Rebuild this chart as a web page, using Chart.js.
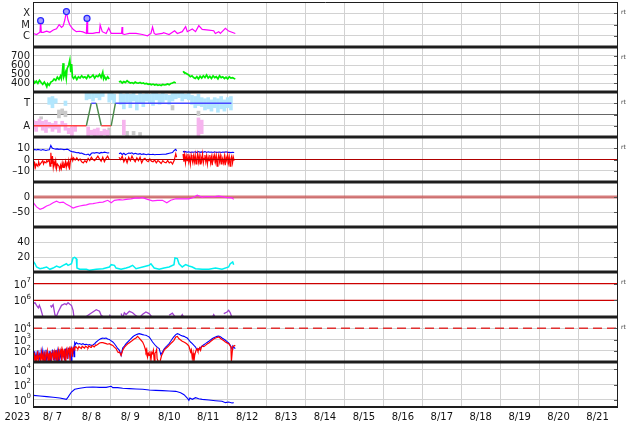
<!DOCTYPE html>
<html><head><meta charset="utf-8">
<script src="https://cdn.jsdelivr.net/npm/chart.js@4"></script>
<style>
html,body{margin:0;padding:0;background:#fff;}
#wrap{position:relative;width:634px;height:424px;overflow:hidden;background:#fff;}
canvas{position:absolute;left:0;}
</style></head><body><div id="wrap"></div>
<script>
// ---------------- DATA (x = hours since 2023-08-07 00:00 UT) ----------------
const dateLabels = ['8/ 7','8/ 8','8/ 9','8/10','8/11','8/12','8/13','8/14','8/15','8/16','8/17','8/18','8/19','8/20','8/21'];
const yearLabel = '2023';

// X-ray flux (W/m2)
const xraySeries = [[0.2,1.6e-6],[2.2,1.3e-6],[4.3,2.1e-6],[4.7,2.2e-5],[5.1,2.0e-6],[6.3,2.0e-6],[8.4,2.6e-6],[10.4,2.0e-6],[12.5,3.2e-6],[14.5,4.2e-6],[16.1,9.7e-6],[17.6,5.6e-6],[18.6,7.4e-6],[19.6,2.5e-5],[20.6,1.4e-4],[21.6,2.5e-5],[22.7,9e-6],[24.7,3.7e-6],[26.7,2.3e-6],[28.8,2.5e-6],[30.8,2.2e-6],[32.9,1.6e-6],[33.3,3.5e-5],[33.7,1.6e-6],[36.9,1.6e-6],[39.0,1.9e-6],[40.9,1.9e-6],[41.4,9e-6],[42.7,2.3e-6],[45.1,1.6e-6],[46.7,5e-6],[48.2,1.6e-6],[51.2,1.6e-6],[54.6,1.6e-6],[54.9,6e-6],[55.3,1.5e-6],[56.3,1.3e-6],[59.4,1.6e-6],[63.5,1.6e-6],[67.5,1.3e-6],[70.6,1.0e-6],[72.7,1.6e-6],[73.7,6e-6],[74.7,1.6e-6],[75.7,1.3e-6],[79.8,1.6e-6],[80.5,1.9e-6],[83.9,1.3e-6],[87.3,2.8e-6],[89.0,1.6e-6],[92.0,2.3e-6],[94.1,6.4e-6],[95.1,2.3e-6],[98.2,4e-6],[100.2,2.3e-6],[102.2,7.9e-6],[104.3,3.7e-6],[108.4,3.2e-6],[111.4,2.8e-6],[112.4,1.6e-6],[114.5,2.3e-6],[115.5,1.6e-6],[118.6,4.6e-6],[120.6,2.6e-6],[124.7,1.6e-6]];
const flareSeries = [[4.7,2.2e-5],[20.6,1.4e-4],[33.3,3.5e-5]];
const xrayTicks = [[1e-6,'C'],[1e-5,'M'],[1e-4,'X']];

// Solar wind speed (km/s)
const speedSeries = [[0,440],[1,400],[2,420],[3,395],[4,430],[5,405],[6,385],[7,410],[8,380],[8.5,360],[9,395],[10,375],[11,410],[12,420],[13,445],[14,430],[15,465],[16,440],[17,480],[17.5,450],[18,500],[18.6,620],[19,470],[20,520],[20.5,455],[21,560],[22,600],[22.7,655],[23.3,520],[23.8,610],[24.3,470],[25,450],[26,475],[27,440],[28,470],[29,455],[30,480],[31,460],[32,470],[33,450],[34,485],[35,460],[36,470],[37,490],[38,455],[39,480],[40,470],[41,495],[42,460],[43,520],[43.5,450],[44,475],[45,440],[46,470],[47,445],[48,null],[53,410],[54,420],[55,400],[56,415],[57,405],[58,425],[59,410],[60,400],[61,405],[62,395],[63,410],[64,400],[65,398],[66,405],[67,395],[68,400],[69,390],[70,395],[71,385],[72,390],[73,380],[74,388],[75,378],[76,385],[77,375],[78,380],[79,372],[80,385],[81,378],[82,382],[83,390],[84,380],[85,395],[86,400],[87,410],[88,400],[89,null],[92.5,530],[93,520],[94,510],[95,500],[96,490],[97,470],[98,480],[99,460],[100,450],[101,470],[102,445],[103,475],[104,455],[105,480],[106,460],[107,490],[108,455],[109,475],[110,450],[111,480],[112,460],[113,470],[114,445],[115,480],[116,460],[117,470],[118,450],[119,465],[120,445],[121,470],[122,455],[123,460],[124,450],[124.7,445]];
const speedTicks = [[400,'400'],[500,'500'],[600,'600'],[700,'700']];

// IMF sector: +1 = Toward, -1 = Away
const sectorSeries = [[0,-1],[32.9,-1],[35.9,1],[39.0,1],[42.1,-1],[48.2,-1],[50.8,1],[122.3,1]];
const towardSpread = [[10,0.9,1.5],[12,0.6,1.6],[14,1.0,1.4],[20,0.8,1.2],[33,1.3,1.95],[35,1.4,1.9],[37,1.2,2.0],[39,1.5,1.95],[41,1.3,1.9],[43,1.6,1.95],[47,1.1,1.9],[48.5,1.3,2.0],[50,1.0,1.8],[54,0.9,1.9],[56,0.5,1.8],[58,1.1,1.9],[60,0.6,1.8],[62,1.2,1.95],[64,0.4,1.7],[66,1.0,1.9],[68,0.7,1.8],[70,1.2,1.95],[72,1.0,1.8],[74,0.8,1.9],[76,1.3,1.95],[78,0.9,1.8],[80,1.1,1.9],[82,1.3,1.8],[84,0.9,1.7],[86,1.2,1.9],[88,1.4,1.9],[90,1.5,1.95],[92,1.2,1.9],[94,1.4,1.8],[96,1.3,1.9],[98,0.9,1.7],[100,0.6,1.6],[102,0.8,1.8],[104,0.7,1.5],[106,0.4,1.4],[108,0.5,1.5],[110,0.3,1.3],[112,0.6,1.5],[114,0.2,1.4],[116,0.5,1.6],[118,0.3,1.3],[120,0.6,1.5],[122,0.4,1.6]];
const awaySpread = [[0,-1.3,-0.5],[2,-1.5,-0.6],[4,-1.1,-0.4],[6,-1.4,-0.6],[8,-1.6,-0.5],[10,-1.2,-0.7],[12,-1.5,-0.8],[14,-1.3,-0.6],[16,-1.6,-0.9],[18,-1.0,-0.6],[20,-1.4,-0.8],[22,-1.7,-1.2],[24,-1.9,-1.1],[26,-1.5,-1.0],[34,-1.9,-1.1],[36,-1.8,-1.4],[38,-1.9,-1.3],[40,-1.85,-1.2],[42,-1.9,-1.5],[44,-1.8,-1.3],[46,-1.9,-1.4],[56,-1.8,-0.5],[102,-1.9,-0.3],[104,-1.7,-0.5]];
const mixedSpread = [[5,-0.4,-0.2],[16,-0.3,0.4],[18,0.0,0.5],[20,-0.2,0.3],[47,-1.8,-1.2],[58,-1.9,-1.5],[62,-1.8,-1.5],[66,-1.9,-1.6],[86,0.4,0.8],[102,-0.1,0.3]];
const sectorTicks = [[1,'T'],[0,''],[-1,'A']];

// IMF Bt and Bz (nT)
const btSeries = [[0,8],[1,9],[2,8.5],[3,9],[4,8.7],[5,8.2],[6,8.8],[7,8.5],[8,8],[9,8.4],[10,8.6],[11,12.5],[11.5,11],[12,10],[13,9.5],[14,9.2],[15,9.4],[16,9],[17,9.3],[18,9.1],[19,8.8],[20,8.9],[21,9.2],[22,8.6],[23,7.5],[24,7],[25,6.8],[26,6.5],[27,6.0],[28,6.2],[29,5.5],[30,5.8],[31,5.0],[32,4.5],[33,4.2],[34,4.8],[35,3.6],[36,5.5],[37,6.0],[38,5.7],[39,6.2],[40,6.0],[41,5.5],[42,6.3],[43,6.0],[44,6.5],[45,6.2],[46,5.8],[47,6.0],[48,null],[53,5.2],[54,5.8],[55,4.5],[56,5.5],[57,4.2],[58,5.0],[59,5.8],[60,5.5],[61,6.0],[62,4.8],[63,5.5],[64,5.0],[65,4.8],[66,5.2],[67,4.5],[68,5.0],[69,4.6],[70,4.2],[71,4.8],[72,4.5],[73,4.4],[74,4.6],[75,4.2],[76,4.5],[78,4.4],[80,4.6],[82,4.8],[84,5.5],[86,6.2],[87,8],[88,9],[88.5,7.5],[89,null],[92.5,7.5],[93,6.8],[94,7],[95,6.5],[96,6.8],[97,6.2],[98,6.6],[99,6.4],[100,6.9],[101,6.2],[102,7.1],[103,6.4],[104,6.8],[105,6.5],[106,7.0],[107,6.3],[108,6.8],[109,6.5],[110,6.6],[111,6.2],[112,6.8],[113,6.3],[114,6.5],[115,6.7],[116,6.2],[117,6.6],[118,6.4],[119,6.8],[120,6.3],[121,6.5],[122,6.1],[123,6.4],[124,6.2]];
const bzSeries = [[0,-2],[0.5,-5],[1,-3],[1.5,-7],[2,-4],[3,-6],[3.5,-2],[4,-5],[5,-3],[6,-1],[6.5,-4],[7,-2],[8,-3],[8.5,-1],[9,-2],[10,-0.5],[10.5,-6],[11,6],[11.5,-4],[12,3],[12.5,-7],[13,-2],[13.5,-5],[14,-1],[14.5,-8],[15,-4],[16,-6],[16.5,-9],[17,-5],[17.5,-8],[18,-3],[18.5,-7],[19,-4],[19.5,-6],[20,-2],[20.5,-7],[21,-3],[21.5,-5],[22,-1],[22.5,-9],[23,-2],[23.5,1],[24,2],[24.5,-1],[25,1.5],[26,-0.5],[27,1.5],[28,-1],[29,0.5],[30,-2],[31,-3],[32,-1],[33,-2.5],[34,1],[35,-1],[36,2],[37,0],[38,-1],[39,1],[40,3],[41,0.5],[42,-1.5],[43,2],[44,-2],[45,1],[46,3],[47,0],[48,null],[53,2],[54,0],[55,3],[56,-2],[57,1],[58,-3],[59,2],[60,-1],[61,3],[62,0],[63,-2],[64,1.5],[65,-1],[66,2],[67,-3],[68,0],[69,1],[70,-1],[71,-2],[72,0.5],[73,-1.5],[74,-2],[75,-0.5],[76,-3],[77,-1],[78,-2],[79,-3.5],[80,-1],[81,-2.5],[82,-3],[83,-1],[84,-3],[85,-2],[86,-4],[87,-1],[88,5],[88.5,2],[89,null],[92.5,5],[93,-2],[93.5,4],[94,-3],[94.5,3],[95,-1],[95.5,5],[96,-2],[96.5,2],[97,-4],[97.5,4],[98,0],[98.5,-3],[99,3],[99.5,-2],[100,4],[100.5,-4],[101,1],[101.5,5],[102,-2],[102.5,3],[103,-4],[103.5,2],[104,-1],[104.5,5],[105,-3],[105.5,1],[106,4],[106.5,-2],[107,3],[107.5,-4],[108,2],[108.5,-1],[109,4],[109.5,-3],[110,2],[110.5,-5],[111,3],[111.5,0],[112,4],[112.5,-2],[113,3],[113.5,-6],[114,1],[114.5,4],[115,-2],[115.5,3],[116,-4],[116.5,2],[117,0],[117.5,-3],[118,3],[118.5,-5],[119,2],[119.5,-1],[120,4],[120.5,-3],[121,2],[121.5,-6],[122,1],[122.5,3],[123,-3],[123.5,2],[124,-1]];
const imfZero = 0;
const imfTicks = [[10,'10'],[0,'0'],[-10,'\u201310']];

// Dst (nT)
const dstSeries = [[0.2,-19],[2.2,-33],[4.3,-41],[6.3,-37],[8.4,-30],[10.4,-26],[12.4,-19],[14.5,-14],[16.5,-19],[18.6,-17],[20.6,-24],[22.7,-30],[24.7,-37],[26.7,-33],[28.8,-30],[30.8,-28],[32.9,-26],[34.9,-23],[37,-22],[39.0,-20],[41,-18],[43.1,-17],[46.1,-11],[48.2,-19],[50.2,-11],[53.3,-9],[55.3,-10],[57.4,-8],[60.4,-6],[63.5,-3],[65.5,-4],[67.6,-2],[70.6,-8],[73.7,-13],[76.7,-11],[79.8,-11],[82.5,-19],[84.9,-11],[88,-6],[92,-6],[96.1,-6],[99.2,-1],[101.2,6],[104.3,-1],[106.3,1],[108.4,1],[111.4,0],[113,2],[114.5,3],[116.5,1],[118.6,-1],[120.6,-2],[122.7,-3],[123.7,-8]];
const dstZero = 0;
const dstTicks = [[0,'0'],[-50,'\u201350']];

// Kp-like index (cyan)
const cyanSeries = [[0.2,14.2],[1.2,11],[2.2,6.7],[4.3,4.4],[6.3,5.3],[8.4,6.7],[10.4,3.6],[12.4,5.3],[14.5,8],[16.5,6.2],[18.6,8.9],[20.6,11],[21.6,8.9],[23.7,11],[24.7,18.7],[25.7,19.6],[26.7,17.8],[27.1,5.3],[28.8,3.6],[32.9,3.6],[34.9,2.2],[39.0,3.6],[43.1,4.4],[47.1,6.7],[48.2,9.8],[50.2,8.9],[51.2,5.3],[54.3,3.6],[57.4,5.3],[59.4,6.7],[61.4,8.9],[63.5,4.4],[67.6,6.7],[71.6,8.9],[72.7,11],[74.7,5.3],[77.8,3.6],[80.8,5.3],[83.9,6.7],[86.9,9.8],[87.5,18.7],[89.0,17.8],[90.0,11],[92.0,6.7],[94.1,9.8],[96.1,8],[98.2,6.7],[100.2,4.4],[104.3,3.6],[108.4,3.6],[112.5,5.3],[116.5,3.6],[120.6,6.7],[121.6,11],[123.1,13.3],[123.7,9.8]];
const cyanTicks = [[20,'20'],[40,'40']];

// Electron fluence (purple) and thresholds
const electronSeries = [[0.2,6.3e5],[1.2,7.2e5],[2.2,5.0e5],[3.3,3.5e5],[3.9,5.0e5],[4.7,3.2e5],[5.9,1.26e5],[6.3,9e4],[7,null],[10.8,5.0e5],[11.4,4.0e5],[12.4,5.5e5],[13.5,1.4e5],[14.1,9e4],[15.5,2.0e5],[17.6,5.0e5],[19.6,6.3e5],[20.6,5.5e5],[21.6,7.2e5],[22.7,5.8e5],[23.7,5.0e5],[24.7,2.5e5],[25.3,9e4],[26,null],[31.8,9e4],[33.9,1.26e5],[36.9,2.0e5],[39.0,2.75e5],[41.0,2.2e5],[42.0,1.26e5],[44.1,9e4],[45,null],[47.1,1.4e5],[48.2,9e4],[49,null],[54.3,1.6e5],[55.3,9e4],[56.3,1.8e5],[57.4,1.4e5],[59.4,2.2e5],[61.4,1.8e5],[63.1,1.26e5],[65.5,9e4],[67.6,1.45e5],[69.6,2.0e5],[71.6,1.6e5],[73.7,9e4],[74,null],[83.9,1.26e5],[85.9,1.7e5],[88.0,9e4],[89,null],[91.0,9e4],[92.0,1.4e5],[93.1,9e4],[94,null],[110.4,9e4],[111.4,1.4e5],[112.5,9e4],[113,null],[117.6,1.6e5],[119.6,2.0e5],[120.6,2.5e5],[121.6,1.8e5],[122.7,9e4]];
const electronLevels = [1e6, 1e7];
const electronTicks = [[1e7,'10','7'],[1e6,'10','6']];

// Energetic particles (blue, red) and threshold
const fluxBlueSeries = [[0,60],[0.5,15],[1,90],[1.5,12],[2,50],[2.5,20],[3,110],[3.5,14],[4,45],[4.5,11],[5,80],[5.5,25],[6,100],[6.5,13],[7,55],[7.5,18],[8,120],[8.5,12],[9,40],[9.5,22],[10,95],[10.5,11],[11,70],[11.5,30],[12,130],[12.5,15],[13,60],[13.5,12],[14,110],[14.5,20],[15,85],[15.5,13],[16,140],[16.5,25],[17,70],[17.5,11],[18,150],[18.5,30],[19,90],[19.5,14],[20,160],[20.5,40],[21,100],[21.5,18],[22,180],[22.5,45],[23,120],[23.5,12],[24,200],[24.5,60],[25,150],[25.3,30],[25.7,525],[26.2,380],[26.7,525],[27.7,400],[28.8,430],[29.8,360],[30.8,420],[31.8,350],[32.9,380],[33.9,330],[34.9,360],[35.9,300],[36.9,330],[38,420],[39.0,600],[40,800],[41.0,1020],[42,1200],[43.1,1350],[44,1250],[45.1,1350],[46,1100],[47.1,980],[48,800],[49.2,600],[50.2,420],[51.2,265],[52.2,160],[53.3,110],[54.3,39],[55.3,175],[56.3,260],[57.4,430],[58.4,600],[59.4,850],[60.4,1200],[61.4,1660],[62.4,2200],[63.5,2700],[64.5,3000],[65.5,3300],[66.5,3000],[67.6,2700],[68.6,2500],[69.6,2350],[70.6,2000],[71.6,1660],[72.7,1000],[73.7,600],[74.7,400],[75.7,265],[76.7,200],[77.8,155],[78.8,45],[79.8,78],[80.8,140],[81.8,215],[82.9,300],[83.9,430],[84.9,700],[85.9,1170],[86.9,1800],[88.0,2700],[89.0,3300],[90.0,2900],[91.0,2350],[92.0,2100],[93.1,1900],[94.1,1600],[95.1,1350],[96.1,900],[97.1,600],[98.2,430],[99.2,300],[100.2,215],[101.2,110],[102.2,155],[103.3,200],[104.3,265],[105.3,340],[106.3,430],[107.3,550],[108.4,690],[109.4,900],[110.4,1170],[111.4,1400],[112.5,1660],[113.5,1900],[114.5,2050],[115.5,1800],[116.5,1350],[117.5,1100],[118.6,850],[119.6,650],[120.6,490],[121.6,300],[122.2,200],[122.7,135],[123.2,260],[123.7,215],[124.7,155]];
const fluxRedSeries = [[0,30],[0.3,12],[0.8,70],[1.3,11],[1.8,40],[2.3,15],[2.8,90],[3.3,12],[3.8,35],[4.3,60],[4.8,11],[5.3,75],[5.8,18],[6.3,50],[6.8,11],[7.3,85],[7.8,14],[8.3,45],[8.8,100],[9.3,12],[9.8,60],[10.3,20],[10.8,90],[11.3,11],[11.8,55],[12.3,110],[12.8,14],[13.3,70],[13.8,25],[14.3,120],[14.8,11],[15.3,65],[15.8,130],[16.3,16],[16.8,80],[17.3,140],[17.8,12],[18.3,100],[18.8,35],[19.3,150],[19.8,11],[20.3,110],[20.8,160],[21.3,20],[21.8,120],[22.3,170],[22.8,13],[23.3,140],[23.8,190],[24.3,30],[24.8,160],[25.3,200],[25.7,155],[26.2,230],[26.7,215],[27.2,170],[27.7,150],[28.3,240],[28.8,200],[29.3,180],[29.8,160],[30.3,250],[30.8,215],[31.3,190],[31.8,170],[32.4,260],[32.9,230],[33.4,200],[33.9,180],[34.4,270],[34.9,240],[35.4,210],[36,200],[36.5,290],[37,260],[37.5,230],[38,230],[38.5,320],[39.0,300],[40,380],[41.0,490],[42,520],[43.1,525],[44,480],[45.1,430],[46,380],[47.1,430],[48,350],[49.2,300],[50,220],[51.2,155],[52,90],[52.5,70],[53.3,78],[54.3,39],[55.3,110],[56.3,200],[57.4,300],[58.4,420],[59.4,525],[60.4,650],[61.4,850],[62.4,1100],[63.5,1350],[64.5,1900],[65.5,1350],[66.5,900],[67.6,600],[68.5,300],[69.1,160],[69.6,78],[70.1,130],[70.6,28],[71.1,60],[71.6,39],[72.1,90],[72.7,14],[73.2,70],[73.7,55],[74.2,110],[74.7,14],[75.2,60],[75.7,78],[76.2,130],[76.5,20],[77.2,11],[77.8,11],[78.3,11],[78.8,11],[79.3,40],[79.8,55],[80.8,110],[81.8,160],[82.9,215],[83.9,300],[84.9,430],[85.9,600],[86.9,850],[88.0,1660],[89.0,1900],[90.0,1170],[91.0,900],[92.0,690],[93.0,600],[94.1,490],[95.1,380],[96.1,265],[96.6,150],[97.1,78],[97.6,120],[98.2,20],[98.7,60],[99.2,11],[99.7,40],[100.2,78],[100.7,130],[101.2,155],[101.7,90],[102.2,110],[102.7,180],[103.3,110],[103.8,200],[104.3,265],[105.3,230],[106.3,300],[107.3,400],[108.4,490],[109.4,650],[110.4,850],[111.4,1100],[112.5,1350],[113.5,1500],[114.5,1660],[115.5,1300],[116.5,980],[117.5,800],[118.6,600],[119.6,500],[120.6,430],[121.2,330],[121.6,265],[122.0,200],[122.3,11],[122.6,11],[123.1,215],[123.7,260],[124.7,300]];
const fluxLevel = 1e4;
const fluxTicks = [[1e4,'10','4'],[1e3,'10','3'],[1e2,'10','2']];

// Bottom panel (blue)
const lowSeries = [[0.2,3.6],[4.3,2.95],[8.4,2.4],[12.4,1.95],[16.5,1.58],[20.6,1.05],[21.6,2.1],[23.7,10],[25.7,23],[28.8,31],[32.9,42],[36.9,47],[41.0,42],[45.1,42],[48.2,58],[49.2,38],[52.2,38],[55.3,31],[59.4,28],[63.5,25],[67.6,23],[71.6,18.6],[75.7,16.6],[79.8,15.1],[83.9,13.5],[88.0,12.3],[91.0,8.1],[93.1,4.4],[95.1,1.58],[96.1,0.78],[96.7,1.58],[98.2,1.05],[100.2,1.74],[102.2,1.29],[104.3,1.05],[108.4,0.85],[112.5,0.69],[116.5,0.58],[118.6,0.38],[120.6,0.47],[122.7,0.34],[123.7,0.38]];
const lowTicks = [[1e4,'10','4'],[1e2,'10','2'],[1,'10','0']];

// ---------------- RENDERING ----------------
const PLOT_L = 33, PLOT_R = 617, PH = 45, PAD = 4;
const PANEL_TOPS = [2,47,92,137,182,227,272,317,362];
const GRID = '#d2d2d2';
const FONT = '"DejaVu Sans", sans-serif';
const wrap = document.getElementById('wrap');
const xy = s => s.map(p => ({x:p[0], y:p[1]}));
const flt = s => s.map(p => ({x:p[0], y:[p[1],p[2]]}));
const hline = v => [[0, v], [360, v]];

function deco(cfg, idx, last) {
  return { id:'deco'+idx, afterDraw(chart) {
    const ctx = chart.ctx, a = chart.chartArea, ys = chart.scales.y, xs = chart.scales.x;
    ctx.save();
    ctx.fillStyle = '#1a1a1a';
    ctx.textBaseline = 'middle';
    for (const t of cfg.ticks) {
      const py = ys.getPixelForValue(t[0]);
      ctx.strokeStyle = '#555'; ctx.lineWidth = 1;
      ctx.beginPath(); ctx.moveTo(a.right - 3, Math.round(py)+0.5); ctx.lineTo(a.right, Math.round(py)+0.5); ctx.stroke();
      if (!t[1]) continue;
      if (t[2] !== undefined) {
        ctx.font = '7px ' + FONT; ctx.textAlign = 'left';
        const ew = ctx.measureText(t[2]).width;
        ctx.fillText(t[2], 31 - ew, py - 3);
        ctx.font = '10px ' + FONT; ctx.textAlign = 'right';
        ctx.fillText(t[1], 31 - ew, py + 1.5);
      } else {
        ctx.font = '10px ' + FONT; ctx.textAlign = 'right';
        ctx.fillText(t[1], 30, py + 0.5);
      }
    }
    if (cfg.rt) {
      ctx.font = '6px ' + FONT; ctx.textAlign = 'left'; ctx.fillStyle = '#444';
      ctx.fillText('rt', a.right + 4, a.top + 10);
    }
    ctx.strokeStyle = '#1e1e1e';
    ctx.lineWidth = 1;
    ctx.beginPath();
    ctx.moveTo(a.left + 0.5, a.top); ctx.lineTo(a.left + 0.5, a.bottom);
    ctx.moveTo(a.right + 0.5, a.top); ctx.lineTo(a.right + 0.5, a.bottom);
    ctx.stroke();
    ctx.lineWidth = idx === 0 ? 1 : 3;
    ctx.beginPath(); ctx.moveTo(a.left, a.top + (idx===0?0.5:0)); ctx.lineTo(a.right + 1, a.top + (idx===0?0.5:0)); ctx.stroke();
    if (last) {
      ctx.lineWidth = 2;
      ctx.beginPath(); ctx.moveTo(a.left, a.bottom); ctx.lineTo(a.right + 1, a.bottom); ctx.stroke();
      ctx.fillStyle = '#111';
      ctx.font = '10px ' + FONT; ctx.textBaseline = 'middle'; ctx.textAlign = 'center';
      dateLabels.forEach((lab, k) => ctx.fillText(lab, xs.getPixelForValue(12 + 24*k), a.bottom + 10.5));
      ctx.textAlign = 'right';
      ctx.fillText(yearLabel, a.left - 3, a.bottom + 10.5);
    }
    ctx.restore();
  }};
}

function makePanel(idx, cfg) {
  const top = PANEL_TOPS[idx];
  const last = idx === PANEL_TOPS.length - 1;
  const h = last ? (424 - (top - PAD)) : (PH + 2*PAD);
  const c = document.createElement('canvas');
  c.width = 634; c.height = h;
  c.style.width = '634px'; c.style.height = h + 'px'; c.style.top = (top - PAD) + 'px';
  wrap.appendChild(c);
  new Chart(c, {
    type: 'line',
    data: { datasets: cfg.datasets },
    options: {
      responsive: false, animation: false, devicePixelRatio: 1,
      layout: { autoPadding: false, padding: { left: 0, right: 634 - PLOT_R, top: PAD, bottom: h - PAD - PH } },
      plugins: { legend: { display: false }, tooltip: { enabled: false } },
      elements: { point: { radius: 0 }, line: { tension: 0 } },
      events: [],
      scales: {
        x: { type: 'linear', min: 0, max: 360, offset: false,
             afterBuildTicks: s => { const t = []; for (let v = 0; v <= 360; v += 24) t.push({value: v}); s.ticks = t; },
             afterFit: s => { s.height = 0; },
             ticks: { display: false }, grid: { color: GRID, drawTicks: false, offset: false }, border: { display: false } },
        y: { type: cfg.type, min: cfg.min, max: cfg.max,
             afterBuildTicks: s => { s.ticks = cfg.ticks.map(t => ({value: t[0]})); },
             afterFit: s => { s.width = PLOT_L; },
             ticks: { display: false },
             grid: { color: c2 => (cfg.darkZero && c2.tick && c2.tick.value === 0) ? '#666' : GRID, drawTicks: false },
             border: { display: false } }
      }
    },
    plugins: [deco(cfg, idx, last)]
  });
}

const L = (data, color, w, extra) => Object.assign({ data: xy(data), borderColor: color, borderWidth: w, pointRadius: 0, spanGaps: false, clip: 0, fill: false }, extra || {});
const B = (data, color) => ({ type: 'bar', data: flt(data), backgroundColor: color, borderWidth: 0, barThickness: 3, grouped: false, clip: 0 });

const panels = [
  { type: 'logarithmic', min: 1e-7, max: 1e-3, ticks: xrayTicks, rt: true, datasets: [
    { data: xy(flareSeries), showLine: false, pointRadius: 3, pointBackgroundColor: '#a8a0ff', pointBorderColor: '#2626ff', pointBorderWidth: 1.2, clip: 6 },
    L(xraySeries, '#ff00ff', 1.2) ] },
  { type: 'linear', min: 300, max: 800, ticks: speedTicks, rt: true, datasets: [
    L(speedSeries, '#00ee00', 1.7) ] },
  { type: 'linear', min: -2, max: 2, ticks: sectorTicks, rt: true, darkZero: true, datasets: [
    L(sectorSeries, '#3c8c3c', 1.4, { segment: { borderColor: s => {
      const p = s.p0.parsed.y, q = s.p1.parsed.y;
      return (p === 1 && q === 1) ? '#4848ff' : (p === -1 && q === -1) ? '#ff4040' : '#4a8a4a'; } } }),
    B(towardSpread, '#b2e6fd'),
    B(awaySpread, '#f6b4ee'),
    B(mixedSpread, '#cacaca') ] },
  { type: 'linear', min: -20, max: 20, ticks: imfTicks, rt: true, datasets: [
    L(hline(imfZero), '#b00000', 1.2),
    L(bzSeries, '#ff0000', 1.2),
    L(btSeries, '#0000ff', 1.1) ] },
  { type: 'linear', min: -100, max: 50, ticks: dstTicks, rt: false, datasets: [
    L(dstSeries, '#ff22ff', 1.2),
    L(hline(dstZero), 'rgba(200,80,80,0.75)', 3) ] },
  { type: 'linear', min: 0, max: 60, ticks: cyanTicks, rt: false, datasets: [
    L(cyanSeries, '#00f0f0', 1.5) ] },
  { type: 'logarithmic', min: 1e5, max: 5e7, ticks: electronTicks, rt: true, datasets: [
    L(hline(electronLevels[0]), '#cc0000', 1.2),
    L(hline(electronLevels[1]), '#cc0000', 1.2),
    L(electronSeries, '#a040d0', 1.3) ] },
  { type: 'logarithmic', min: 1e1, max: 1e5, ticks: fluxTicks, rt: true, datasets: [
    L(hline(fluxLevel), '#e03030', 1.5, { borderDash: [9, 5] }),
    L(fluxRedSeries, '#ff0000', 1.2),
    L(fluxBlueSeries, '#0000ff', 1.1) ] },
  { type: 'logarithmic', min: 0.1, max: 1e5, ticks: lowTicks, rt: false, datasets: [
    L(lowSeries, '#0000ff', 1.1) ] }
];
panels.forEach((p, i) => makePanel(i, p));
</script>
</body></html>
